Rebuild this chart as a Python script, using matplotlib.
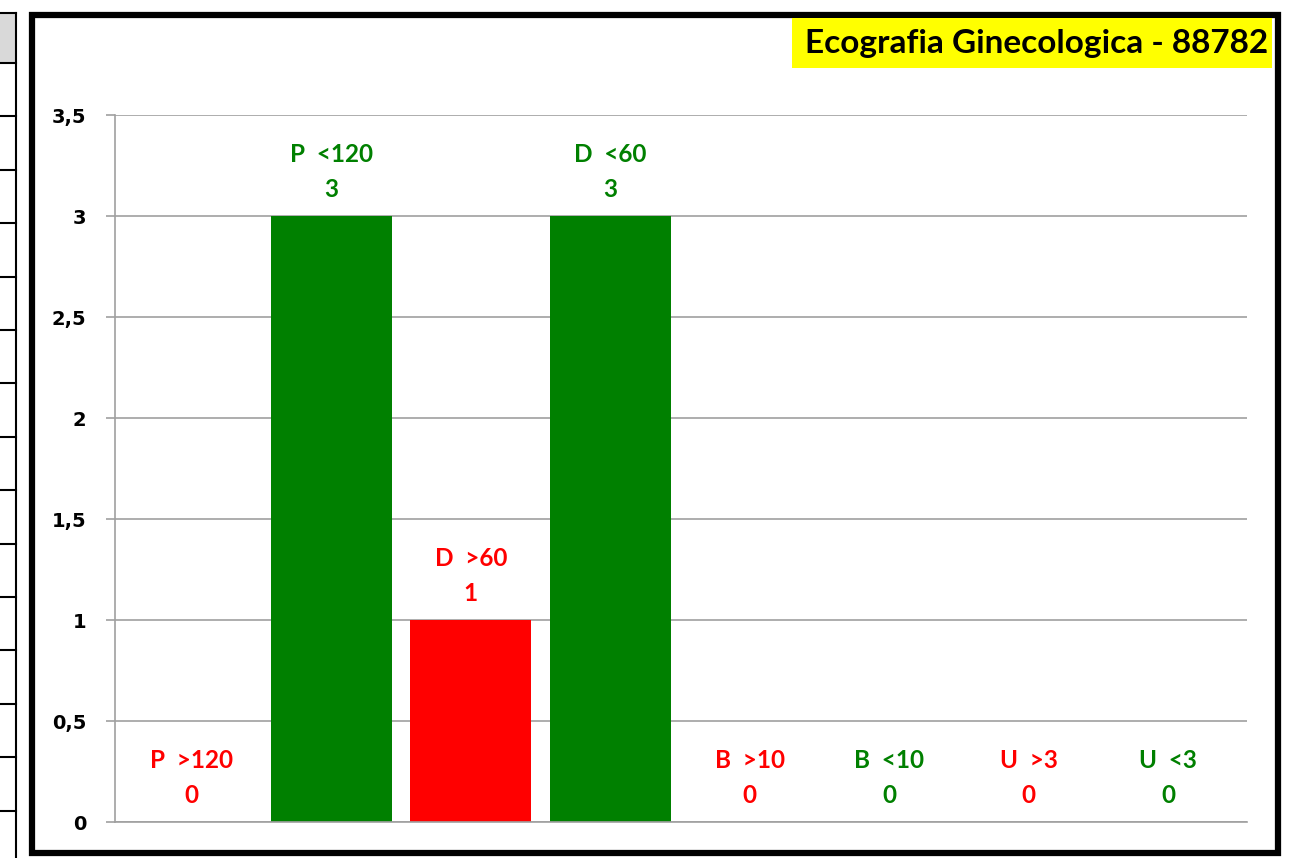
import matplotlib.pyplot as plt
from matplotlib.patches import Rectangle
from matplotlib.lines import Line2D

categories = ['P  >120', 'P  <120', 'D  >60', 'D  <60', 'B  >10', 'B  <10', 'U  >3', 'U  <3']
values = [0, 3, 1, 3, 0, 0, 0, 0]
colors = ['#FF0000', '#008000', '#FF0000', '#008000', '#FF0000', '#008000', '#FF0000', '#008000']
yticks = [0, 0.5, 1, 1.5, 2, 2.5, 3, 3.5]
ytick_labels = ['0', '0,5', '1', '1,5', '2', '2,5', '3', '3,5']
title = 'Ecografia Ginecologica - 88782'

W, H = 1308, 858
fig = plt.figure(figsize=(W / 100, H / 100), dpi=100)

# spreadsheet leftovers on the left edge
fig.patches.append(Rectangle((0, 1 - 63 / H), 16 / W, 50 / H, transform=fig.transFigure,
                             facecolor='#d9d9d9', edgecolor='none'))
fig.lines.append(Line2D([16 / W, 16 / W], [0, 1 - 13 / H], transform=fig.transFigure,
                        color='black', lw=1.5))
fig.lines.append(Line2D([0, 16 / W], [1 - 13 / H, 1 - 13 / H], transform=fig.transFigure,
                        color='black', lw=1.5))
y = 63
while y < H:
    fig.lines.append(Line2D([0, 16 / W], [1 - y / H, 1 - y / H], transform=fig.transFigure,
                            color='black', lw=1.5))
    y += 53.4

# chart frame
fig.patches.append(Rectangle((32 / W, 1 - 853 / H), 1246 / W, 838 / H, transform=fig.transFigure,
                             facecolor='white', edgecolor='black', lw=4.5, zorder=-1))

ax = fig.add_axes([115 / W, 1 - 822 / H, 1132 / W, 707 / H])
ax.set_zorder(2)
x = range(len(categories))
ax.bar(x, values, width=0.868, color=colors, zorder=2)
ax.set_xlim(-0.55, len(categories) - 0.435)
ax.set_ylim(0, 3.5)
ax.set_yticks(yticks)
ax.set_yticklabels(ytick_labels, fontsize=14, fontweight='bold', family='DejaVu Sans')
ax.tick_params(axis='y', length=6.5, color='#a0a0a0', width=1.2, pad=14)
ax.set_xticks([])
ax.yaxis.grid(True, color='#a0a0a0', lw=1.2, zorder=0)
for s in ['top', 'right']:
    ax.spines[s].set_visible(False)
ax.spines['left'].set_color('#a0a0a0')
ax.spines['bottom'].set_color('#a0a0a0')
ax.spines['left'].set_linewidth(1.2)
ax.spines['bottom'].set_linewidth(1.2)
ax.patch.set_alpha(0)

for i, (c, v, col) in enumerate(zip(categories, values, colors)):
    ax.annotate(c + '\n' + str(v), (i, v), xytext=(0, 11), textcoords='offset points',
                ha='center', va='bottom', color=col, fontsize=17.5, fontweight='bold',
                family='Lato', linespacing=1.64)

fig.patches.append(Rectangle((792 / W, 1 - 68 / H), 480 / W, 50 / H, transform=fig.transFigure,
                             facecolor='#FFFF00', edgecolor='none', zorder=3))
fig.text(1268 / W, 1 - 43 / H, title, ha='right', va='center', fontsize=24, fontweight='bold',
         family='Lato', zorder=4)

fig.savefig('out.png', dpi=100)
